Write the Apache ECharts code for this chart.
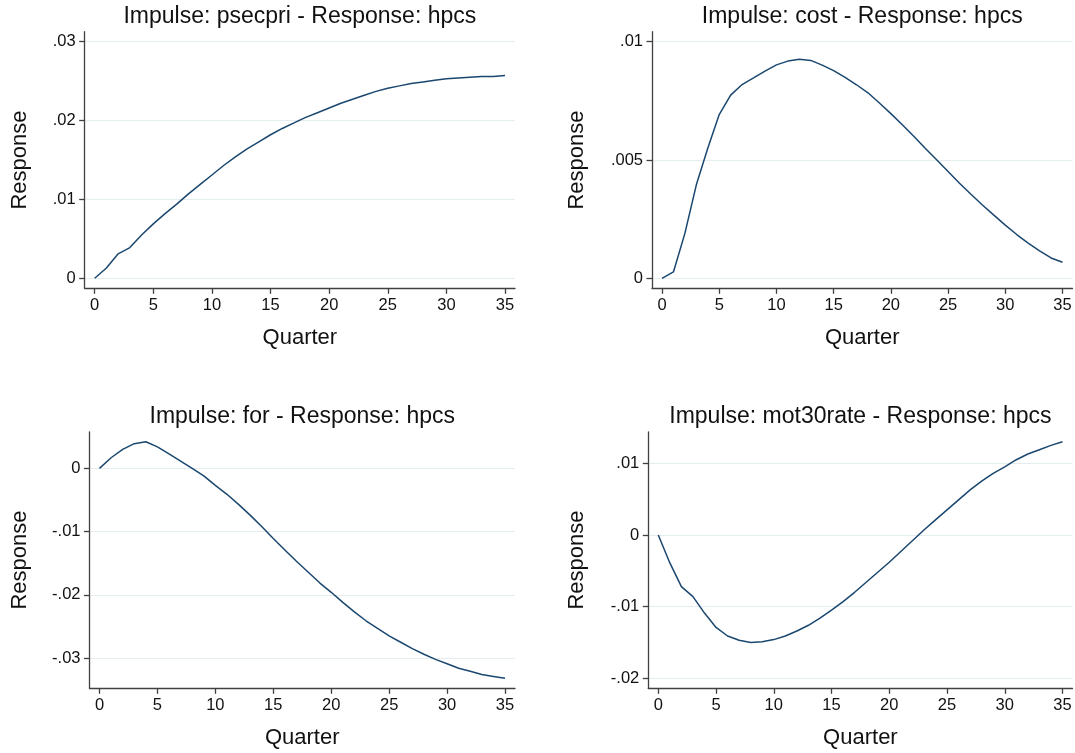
<!DOCTYPE html>
<html>
<head>
<meta charset="utf-8">
<script src="https://cdn.jsdelivr.net/npm/echarts@6/dist/echarts.min.js"></script>
<style>
  html, body { margin: 0; padding: 0; background: #ffffff; }
  #chart { width: 1075px; height: 753px; }
</style>
</head>
<body>
<div id="chart"></div>
<script>
// ---- Data ----
const quarters = [0,1,2,3,4,5,6,7,8,9,10,11,12,13,14,15,16,17,18,19,20,21,22,23,24,25,26,27,28,29,30,31,32,33,34,35];

const titles = [
  'Impulse: psecpri - Response: hpcs',
  'Impulse: cost - Response: hpcs',
  'Impulse: for - Response: hpcs',
  'Impulse: mot30rate - Response: hpcs'
];

const psecpriResp = [0, 0.0013, 0.0031, 0.0039, 0.0055, 0.0069, 0.0082, 0.0094, 0.0107, 0.0119,
  0.0131, 0.0143, 0.0154, 0.0164, 0.0173, 0.0182, 0.0190, 0.0197, 0.0204, 0.0210,
  0.0216, 0.0222, 0.0227, 0.0232, 0.0237, 0.0241, 0.0244, 0.0247, 0.0249, 0.0251,
  0.0253, 0.0254, 0.0255, 0.0256, 0.0256, 0.0257];

const costResp = [0, 0.00027, 0.0019, 0.00395, 0.0055, 0.00692, 0.00774, 0.00819, 0.00847, 0.00876,
  0.00902, 0.00918, 0.00926, 0.00921, 0.00901, 0.00878, 0.00849, 0.00818, 0.00784, 0.00741,
  0.00696, 0.00649, 0.0060, 0.0055, 0.00501, 0.00451, 0.00402, 0.00355, 0.0031, 0.00267,
  0.00225, 0.00185, 0.00149, 0.00116, 0.00086, 0.00068];

const forResp = [0, 0.00168, 0.0030, 0.0039, 0.0042, 0.0034, 0.0023, 0.00116, 0, -0.0012,
  -0.0027, -0.0041, -0.0057, -0.0074, -0.0092, -0.0111, -0.0129, -0.0147, -0.0164, -0.0181,
  -0.0196, -0.0212, -0.0227, -0.0241, -0.0253, -0.0265, -0.0275, -0.0285, -0.0294, -0.0302,
  -0.0309, -0.0316, -0.0321, -0.0326, -0.0329, -0.0332];

const mot30rateResp = [0, -0.0039, -0.0072, -0.0086, -0.0109, -0.0129, -0.0141, -0.0147, -0.0150, -0.0149,
  -0.0146, -0.0141, -0.0134, -0.0126, -0.0116, -0.0105, -0.0093, -0.0080, -0.0066, -0.0052,
  -0.0038, -0.0023, -0.0008, 0.0007, 0.0021, 0.0035, 0.0049, 0.0063, 0.0075, 0.0086,
  0.0095, 0.0105, 0.0113, 0.0119, 0.0125, 0.0130];

const xTicks = [0, 5, 10, 15, 20, 25, 30, 35];
const yTicks1 = [0, 0.01, 0.02, 0.03];
const yTicks2 = [0, 0.005, 0.01];
const yTicks3 = [-0.03, -0.02, -0.01, 0];
const yTicks4 = [-0.02, -0.01, 0, 0.01];

const xAxisName = 'Quarter';
const yAxisName = 'Response';

// ---- Layout (pixels) ----
const panels = [
  { series: psecpriResp,   yTicks: yTicks1, left: 84.7,  top: 31.7,  width: 430.3, height: 256.6, nameGap: 54 },
  { series: costResp,      yTicks: yTicks2, left: 652,   top: 31.7,  width: 420.5, height: 256.6, nameGap: 64.5 },
  { series: forResp,       yTicks: yTicks3, left: 89.5,  top: 431.8, width: 425.5, height: 256.5, nameGap: 58.5 },
  { series: mot30rateResp, yTicks: yTicks4, left: 648.3, top: 431.8, width: 424.2, height: 256.5, nameGap: 60.5 }
];
const MARGIN = 10;
const FONT = "'Liberation Sans', Arial, Helvetica, sans-serif";
const LINE_COLOR = '#1a476f';
const AXIS_COLOR = '#404040';
const GRID_COLOR = '#e4eef0';

function fmt(v) {
  if (Math.abs(v) < 1e-12) return '0';
  return String(+v.toFixed(4)).replace('0.', '.');
}

const option = {
  backgroundColor: '#ffffff',
  animation: false,
  title: [],
  grid: [],
  xAxis: [],
  yAxis: [],
  series: []
};

panels.forEach((p, i) => {
  const xLo = Math.min(quarters[0], xTicks[0]);
  const xHi = Math.max(quarters[quarters.length - 1], xTicks[xTicks.length - 1]);
  const xPer = (p.width - 2 * MARGIN) / (xHi - xLo);
  const yLo = Math.min(Math.min(...p.series), p.yTicks[0]);
  const yHi = Math.max(Math.max(...p.series), p.yTicks[p.yTicks.length - 1]);
  const yPer = (p.height - 2 * MARGIN) / (yHi - yLo);

  option.title.push({
    text: titles[i],
    left: p.left + p.width / 2,
    top: p.top - 27,
    textAlign: 'center',
    padding: 0,
    textStyle: { fontFamily: FONT, fontSize: 23, fontWeight: 'normal', color: '#111' }
  });
  option.grid.push({ left: p.left, top: p.top, width: p.width, height: p.height, containLabel: false });
  option.xAxis.push({
    type: 'value',
    gridIndex: i,
    min: xLo - MARGIN / xPer,
    max: xHi + MARGIN / xPer,
    name: xAxisName,
    nameLocation: 'middle',
    nameGap: 39,
    nameTextStyle: { fontFamily: FONT, fontSize: 22, color: '#111' },
    axisLine: { show: true, onZero: false, lineStyle: { color: AXIS_COLOR, width: 1.3 } },
    axisTick: { show: true, length: 5.5, customValues: xTicks, lineStyle: { color: AXIS_COLOR, width: 1.3 } },
    axisLabel: { customValues: xTicks, margin: 9, fontFamily: FONT, fontSize: 16.5, color: '#111', formatter: v => fmt(v) },
    splitLine: { show: false }
  });
  option.yAxis.push({
    type: 'value',
    gridIndex: i,
    min: yLo - MARGIN / yPer,
    max: yHi + MARGIN / yPer,
    name: yAxisName,
    nameLocation: 'middle',
    nameGap: p.nameGap,
    nameTextStyle: { fontFamily: FONT, fontSize: 22, color: '#111' },
    axisLine: { show: true, onZero: false, lineStyle: { color: AXIS_COLOR, width: 1.3 } },
    axisTick: { show: true, length: 5.5, customValues: p.yTicks, lineStyle: { color: AXIS_COLOR, width: 1.3 } },
    axisLabel: { customValues: p.yTicks, margin: 9, fontFamily: FONT, fontSize: 16.5, color: '#111', formatter: v => fmt(v) },
    splitLine: { show: true, lineStyle: { color: GRID_COLOR, width: 1.2 } }
  });
  option.series.push({
    type: 'line',
    xAxisIndex: i,
    yAxisIndex: i,
    showSymbol: false,
    symbol: 'none',
    lineStyle: { color: LINE_COLOR, width: 1.5 },
    data: quarters.map((q, k) => [q, p.series[k]])
  });
});

const chart = echarts.init(document.getElementById('chart'), null, { renderer: 'canvas' });
chart.setOption(option);
</script>
</body>
</html>
